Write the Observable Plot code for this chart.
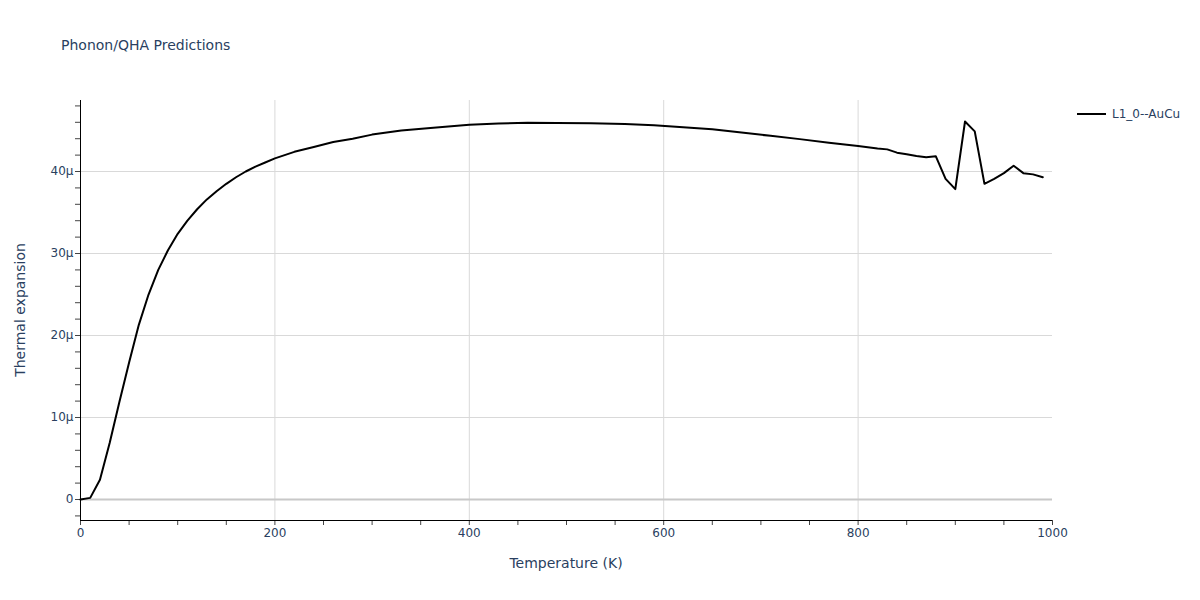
<!DOCTYPE html>
<html>
<head>
<meta charset="utf-8">
<script src="https://cdn.jsdelivr.net/npm/d3@7"></script>
<script src="https://cdn.jsdelivr.net/npm/@observablehq/plot@0.6"></script>
<style>
  html, body { margin: 0; padding: 0; background: #fff; }
  #wrap { position: relative; width: 1200px; height: 600px; font-family: "DejaVu Sans", verdana, arial, sans-serif; color: #2a3f5f; }
  .lbl { position: absolute; white-space: nowrap; line-height: 1; }
</style>
</head>
<body>
<div id="wrap">
  <div class="lbl" style="left:61px; top:38px; font-size:14px;">Phonon/QHA Predictions</div>
  <div class="lbl" style="left:566px; top:556px; font-size:14px; transform:translateX(-50%);">Temperature (K)</div>
  <div class="lbl" style="left:20px; top:310px; font-size:14px; transform:translate(-50%,-50%) rotate(-90deg);">Thermal expansion</div>
  <div class="lbl" style="left:1077px; top:108px; font-size:12px; display:flex; align-items:center;">
    <span style="display:inline-block; width:29px; height:2px; background:#000; margin-right:6px;"></span>L1_0--AuCu
  </div>
</div>
<script>
const temperatures = [0,10,20,30,40,50,60,70,80,90,100,110,120,130,140,150,160,170,180,190,200,220,240,260,280,300,330,360,400,430,460,490,525,560,590,620,650,680,710,740,770,800,820,830,840,850,860,870,880,890,900,910,920,930,940,950,960,970,980,990];
const expansionMicro = [0,0.2,2.4,6.9,11.9,16.7,21.3,25.0,28.0,30.4,32.4,34.0,35.4,36.6,37.6,38.5,39.3,40.0,40.6,41.1,41.6,42.4,43.0,43.6,44.0,44.5,45.0,45.3,45.7,45.85,45.95,45.93,45.9,45.8,45.65,45.4,45.15,44.75,44.35,43.95,43.5,43.1,42.8,42.7,42.3,42.1,41.9,41.75,41.85,39.1,37.85,46.1,44.9,38.5,39.1,39.8,40.7,39.8,39.65,39.3];
const seriesName = "L1_0--AuCu";
const xTickValues = d3.range(0, 1001, 50);
const xGridValues = [200, 400, 600, 800];
const yTickValues = d3.range(-2, 49, 2);
const yGridValues = [10, 20, 30, 40];
const xDomain = [0, 1000];
const yDomain = [-2.56, 48.66];

const data = temperatures.map((t, i) => ({T: t, a: expansionMicro[i], s: seriesName}));

const chart = Plot.plot({
  width: 1200,
  height: 600,
  marginLeft: 80,
  marginRight: 148,
  marginTop: 100,
  marginBottom: 80,
  style: {fontFamily: '"DejaVu Sans", verdana, arial, sans-serif', fontSize: "12px", background: "transparent", overflow: "visible"},
  x: {domain: xDomain, label: null},
  y: {domain: yDomain, label: null},
  marks: [
    Plot.gridX(xGridValues, {stroke: "#d9d9d9", strokeOpacity: 1}),
    Plot.gridY(yGridValues, {stroke: "#d9d9d9", strokeOpacity: 1}),
    Plot.ruleY([0], {stroke: "#c8c8c8", strokeWidth: 2}),
    Plot.axisX({ticks: xTickValues, tickFormat: d => d % 200 === 0 ? String(d) : "", tickSize: 5, tickPadding: 3, stroke: "#444", fill: "#2a3f5f", label: null}),
    Plot.axisY({ticks: yTickValues, tickFormat: d => d === 0 ? "0" : (d % 10 === 0 ? d + "µ" : ""), tickSize: 5, tickPadding: 2, stroke: "#444", fill: "#2a3f5f", label: null}),
    Plot.ruleX([xDomain[0]], {stroke: "#000", strokeWidth: 1}),
    Plot.ruleY([yDomain[0]], {stroke: "#000", strokeWidth: 1}),
    Plot.line(data, {x: "T", y: "a", stroke: "#000", strokeWidth: 2})
  ]
});
chart.style.position = "absolute";
chart.style.left = "0px";
chart.style.top = "0px";
document.getElementById("wrap").prepend(chart);
</script>
</body>
</html>
